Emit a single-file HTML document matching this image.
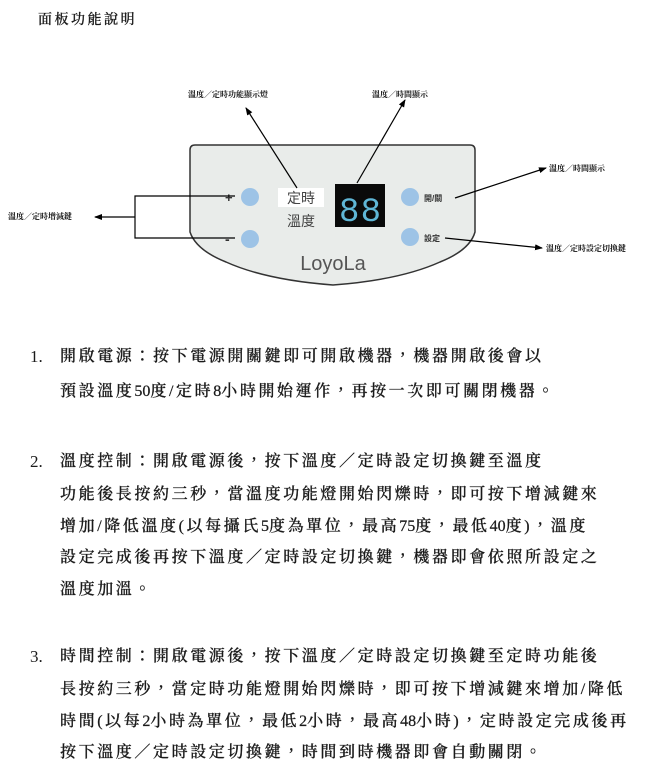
<!DOCTYPE html>
<html><head><meta charset="utf-8"><style>
body{margin:0;width:650px;height:780px;background:#fff;position:relative;overflow:hidden;font-family:"Liberation Serif","Noto Serif CJK TC","Noto Serif CJK SC",serif;color:#1a1a1a}
.t{position:absolute;font-size:16px;letter-spacing:2.6px;white-space:nowrap;line-height:20px;font-weight:500;-webkit-text-stroke:0.25px #1a1a1a}
.t span{letter-spacing:0}
.n{position:absolute;font-size:17px;left:30px;line-height:20px}
</style></head><body>
<div class="t" style="left:38px;top:11px;font-size:14px;letter-spacing:2.5px">面板功能說明</div>
<svg width="650" height="320" style="position:absolute;left:0;top:0" font-family="Liberation Sans, Noto Sans CJK TC, sans-serif">
<defs><marker id="a" markerWidth="8" markerHeight="8" refX="7" refY="4" orient="auto" markerUnits="userSpaceOnUse"><path d="M0,1 L8,4 L0,7z" fill="#000"/></marker></defs>
<path d="M190,150 Q190,145 195,145 L470,145 Q475,145 475,150 L475,232 Q470,250 440,262 Q400,280 333,285 Q266,280 226,262 Q196,250 190,232 Z" fill="#e9ecea" stroke="#333" stroke-width="1.5"/>
<circle cx="250" cy="197" r="9" fill="#9dc3e6"/>
<circle cx="250" cy="239" r="9" fill="#9dc3e6"/>
<circle cx="410" cy="197" r="9" fill="#9dc3e6"/>
<circle cx="410" cy="237" r="9" fill="#9dc3e6"/>
<text x="225" y="202" font-size="13" font-weight="bold" fill="#333">+</text>
<text x="225" y="244" font-size="14" font-weight="bold" fill="#333">-</text>
<rect x="278" y="188" width="46" height="19" fill="#fff"/>
<text x="287" y="203" font-size="14" fill="#444">定時</text>
<text x="287" y="226" font-size="14" fill="#444">溫度</text>
<rect x="335" y="184" width="50" height="43" fill="#0a0a0a"/>
<text x="339" y="221" font-size="34" fill="#5fb6d6" font-family="Liberation Mono, monospace" textLength="42">88</text>
<text x="424" y="201" font-size="8" font-weight="bold" fill="#333">開/關</text>
<text x="424" y="241" font-size="8" font-weight="bold" fill="#333">設定</text>
<text x="333" y="270" font-size="20" fill="#555" text-anchor="middle">LoyoLa</text>
<g stroke="#000" stroke-width="1.2" fill="none">
<path d="M235,196 H135 V238 H235"/>
<line x1="135" y1="217" x2="95" y2="217" marker-end="url(#a)"/>
<line x1="297" y1="188" x2="246" y2="108" marker-end="url(#a)"/>
<line x1="357" y1="183" x2="405" y2="100" marker-end="url(#a)"/>
<line x1="455" y1="198" x2="546" y2="168" marker-end="url(#a)"/>
<line x1="445" y1="238" x2="542" y2="248" marker-end="url(#a)"/>
</g>
<g font-size="8" fill="#111" font-weight="bold" font-family="Liberation Serif, Noto Serif CJK TC, serif">
<text x="188" y="97">溫度／定時功能顯示燈</text>
<text x="372" y="97">溫度／時間顯示</text>
<text x="549" y="171">溫度／時間顯示</text>
<text x="8" y="219">溫度／定時增減鍵</text>
<text x="546" y="251">溫度／定時設定切換鍵</text>
</g>
</svg>
<div class="n" style="top:347px">1.</div>
<div class="t" style="left:60px;top:347px">開啟電源：按下電源開關鍵即可開啟機器，機器開啟後會以</div>
<div class="t" style="left:60px;top:382px">預設溫度<span>50</span>度/定時<span>8</span>小時開始運作，再按一次即可關閉機器。</div>
<div class="n" style="top:452px">2.</div>
<div class="t" style="left:60px;top:452px">溫度控制：開啟電源後，按下溫度／定時設定切換鍵至溫度</div>
<div class="t" style="left:60px;top:485px">功能後長按約三秒，當溫度功能燈開始閃爍時，即可按下增減鍵來</div>
<div class="t" style="left:60px;top:517px">增加/降低溫度(以每攝氏<span>5</span>度為單位，最高<span>75</span>度，最低<span>40</span>度)，溫度</div>
<div class="t" style="left:60px;top:548px">設定完成後再按下溫度／定時設定切換鍵，機器即會依照所設定之</div>
<div class="t" style="left:60px;top:580px">溫度加溫。</div>
<div class="n" style="top:647px">3.</div>
<div class="t" style="left:60px;top:647px">時間控制：開啟電源後，按下溫度／定時設定切換鍵至定時功能後</div>
<div class="t" style="left:60px;top:680px">長按約三秒，當定時功能燈開始閃爍時，即可按下增減鍵來增加/降低</div>
<div class="t" style="left:60px;top:712px">時間(以每<span>2</span>小時為單位，最低<span>2</span>小時，最高<span>48</span>小時)，定時設定完成後再</div>
<div class="t" style="left:60px;top:743px">按下溫度／定時設定切換鍵，時間到時機器即會自動關閉。</div>
</body></html>
